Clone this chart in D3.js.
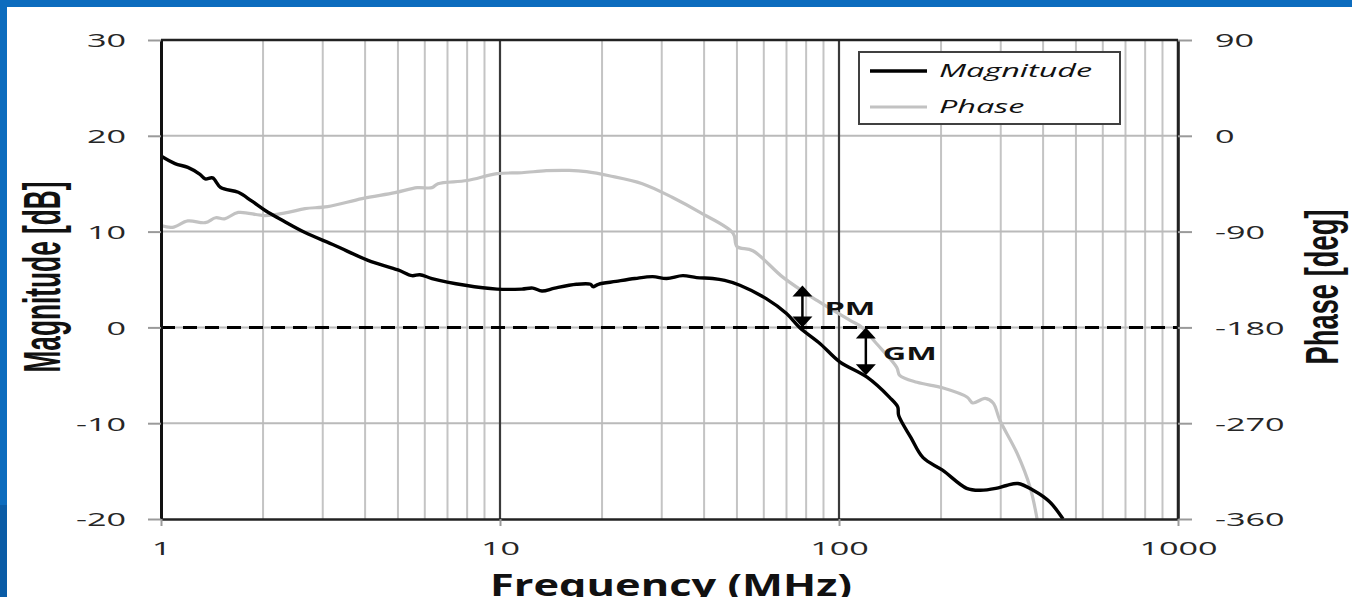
<!DOCTYPE html>
<html>
<head>
<meta charset="utf-8">
<script src="https://cdn.jsdelivr.net/npm/d3@7"></script>
<style>
  html, body { margin: 0; padding: 0; background: #fff; overflow: hidden; }
  svg { display: block; }
  .tick text { font-family: "Open Sans", sans-serif; font-size: 19px; fill: #262626; }
</style>
</head>
<body>
<div id="chart"></div>
<script>
// Magnitude curve (frequency in MHz, magnitude in dB)
var magFreq = [1.00, 1.10, 1.20, 1.30, 1.35, 1.42, 1.50, 1.69, 1.85, 2.03, 2.30, 2.66, 3.26, 4.08, 5.0, 5.5, 5.8, 6.3, 7.9, 9.8,
  11.6, 12.5, 13.3, 14.5, 16.8, 18.5, 18.8, 19.5, 22, 25, 28.2, 31, 34.6, 38, 42.4, 46, 51, 61, 70, 76.5,
  88, 100.5, 121, 141, 149, 150, 163, 177, 202, 238, 261, 290, 312, 337, 374, 418, 458];
var magDb = [17.9, 17.1, 16.7, 16.0, 15.5, 15.6, 14.6, 14.1, 13.2, 12.2, 11.1, 9.9, 8.55, 7.0, 6.0, 5.4, 5.5, 5.1, 4.4, 4.0,
  4.0, 4.1, 3.8, 4.1, 4.5, 4.5, 4.25, 4.5, 4.8, 5.1, 5.3, 5.1, 5.4, 5.2, 5.1, 4.9, 4.4, 3.0, 1.45, 0,
  -1.7, -3.6, -5.2, -7.3, -8.3, -9.2, -11.5, -13.6, -14.9, -16.8, -17.0, -16.8, -16.5, -16.3, -17.0, -18.2, -20];

// Phase curve (frequency in MHz, phase in degrees)
var phaseFreq = [1.00, 1.08, 1.20, 1.35, 1.45, 1.54, 1.69, 2.03, 2.37, 2.66, 3.1, 3.92, 4.9, 5.7, 6.3, 6.56, 8.0, 9.8,
  11.6, 13.7, 16, 18.0, 21, 26.3, 32.3, 38.9, 48.7, 50.0, 55.7, 68.4, 86.1, 107.8, 117, 128, 148, 151, 170, 203,
  239, 248, 270, 285, 298, 335, 366, 384];
var phaseDeg = [-84.4, -86, -80, -81.6, -77, -78, -72, -75, -72, -68.4, -66.6, -59, -53.4, -48.7, -48.7, -45, -42, -35.6,
  -34.7, -32.8, -32.5, -33.7, -37.5, -45, -58, -72, -91.5, -104, -108, -133, -154.7, -173.4, -180, -194, -217.5, -225, -231.6, -237,
  -245.6, -251, -246.6, -251, -267, -298, -330, -360];

var magTicks = [30, 20, 10, 0, -10, -20];
var phaseTicks = [90, 0, -90, -180, -270, -360];
var freqTicks = [1, 10, 100, 1000];

// margin markers
var pmFreq = 78, pmTopPhase = -140.6;
var gmFreq = 120, gmBottomDb = -5;

var svgWidth = 1352, svgHeight = 597;
var plot = { left: 161, right: 1178, top: 40, bottom: 519 };
var stretch = 1.8; // the original picture is stretched horizontally

var svg = d3.select("#chart").append("svg")
  .attr("width", svgWidth)
  .attr("height", svgHeight);

// blue slide frame
svg.append("rect").attr("x", 0).attr("y", 0).attr("width", svgWidth).attr("height", 7).attr("fill", "#0c6cbe");
svg.append("rect").attr("x", 0).attr("y", 0).attr("width", 7).attr("height", svgHeight).attr("fill", "#0c6cbe");
svg.append("rect").attr("x", 0).attr("y", 505).attr("width", 7).attr("height", 92).attr("fill", "#0a5ca6");

// scales
var x = d3.scaleLog().domain([1, 1000]).range([plot.left, plot.right]);
var yMag = d3.scaleLinear().domain([-20, 30]).range([plot.bottom, plot.top]);
var yPh = d3.scaleLinear().domain([-360, 90]).range([plot.bottom, plot.top]);

var grid = svg.append("g");

// minor vertical gridlines
var minor = [];
[1, 10, 100].forEach(function(d) {
  for (var k = 2; k <= 9; k++) minor.push(k * d);
});
grid.selectAll(".vminor").data(minor).enter().append("line")
  .attr("x1", d => x(d)).attr("x2", d => x(d))
  .attr("y1", plot.top).attr("y2", plot.bottom)
  .attr("stroke", "#c4c4c4").attr("stroke-width", 2);

// horizontal gridlines
grid.selectAll(".hgrid").data(magTicks.slice(1, -1)).enter().append("line")
  .attr("x1", plot.left).attr("x2", plot.right)
  .attr("y1", d => yMag(d)).attr("y2", d => yMag(d))
  .attr("stroke", "#bababa").attr("stroke-width", 2);

// decade gridlines
grid.selectAll(".vmajor").data([10, 100]).enter().append("line")
  .attr("x1", d => x(d)).attr("x2", d => x(d))
  .attr("y1", plot.top).attr("y2", plot.bottom)
  .attr("stroke", "#3a3a3a").attr("stroke-width", 2.2);

// 0 dB dashed line
svg.append("line")
  .attr("x1", plot.left).attr("x2", plot.right)
  .attr("y1", yMag(0)).attr("y2", yMag(0))
  .attr("stroke", "#000").attr("stroke-width", 3)
  .attr("stroke-dasharray", "14,8");

// curves
svg.append("clipPath").attr("id", "clip").append("rect")
  .attr("x", plot.left).attr("y", plot.top)
  .attr("width", plot.right - plot.left).attr("height", plot.bottom - plot.top);

var magData = magFreq.map((f, i) => [f, magDb[i]]);
var phaseData = phaseFreq.map((f, i) => [f, phaseDeg[i]]);

var phaseLine = d3.line().x(d => x(d[0])).y(d => yPh(d[1])).curve(d3.curveCatmullRom.alpha(0.5));
var magLine = d3.line().x(d => x(d[0])).y(d => yMag(d[1])).curve(d3.curveCatmullRom.alpha(0.5));

svg.append("path").datum(phaseData)
  .attr("clip-path", "url(#clip)")
  .attr("d", phaseLine)
  .attr("fill", "none").attr("stroke", "#c2c2c2").attr("stroke-width", 3.2)
  .attr("stroke-linejoin", "round");

svg.append("path").datum(magData)
  .attr("clip-path", "url(#clip)")
  .attr("d", magLine)
  .attr("fill", "none").attr("stroke", "#000").attr("stroke-width", 3.4)
  .attr("stroke-linejoin", "round");

// frame
svg.append("line").attr("x1", plot.left).attr("x2", plot.right).attr("y1", plot.top).attr("y2", plot.top)
  .attr("stroke", "#222").attr("stroke-width", 2.5);
svg.append("line").attr("x1", plot.right).attr("x2", plot.right).attr("y1", plot.top).attr("y2", plot.bottom)
  .attr("stroke", "#222").attr("stroke-width", 2.5);

// axes
var leftAxis = d3.axisLeft(yMag).tickValues(magTicks).tickSize(13).tickSizeOuter(0).tickFormat(d => String(d));
var rightAxis = d3.axisRight(yPh).tickValues(phaseTicks).tickSize(14).tickSizeOuter(0).tickFormat(d => String(d));
var bottomAxis = d3.axisBottom(x).tickValues(freqTicks).tickSize(7).tickSizeOuter(0).tickFormat(d => String(d));

var gLeft = svg.append("g").attr("transform", `translate(${plot.left},0)`).call(leftAxis);
var gRight = svg.append("g").attr("transform", `translate(${plot.right},0)`).call(rightAxis);
var gBottom = svg.append("g").attr("transform", `translate(0,${plot.bottom})`).call(bottomAxis);

[gLeft, gRight, gBottom].forEach(function(g) {
  g.selectAll(".tick line").attr("stroke", "#9a9a9a").attr("stroke-width", 2);
  g.attr("font-family", null).attr("font-size", null);
});
gLeft.select(".domain").attr("stroke", "#111").attr("stroke-width", 3);
gRight.select(".domain").attr("stroke", "#222").attr("stroke-width", 2.5);
gBottom.select(".domain").attr("stroke", "#222").attr("stroke-width", 2.5);

gLeft.selectAll("text").attr("x", -35 / stretch).attr("dy", "0.36em")
  .attr("transform", `scale(${stretch},1)`);
gRight.selectAll("text").attr("x", 37 / stretch).attr("dy", "0.36em")
  .attr("transform", `scale(${stretch},1)`);
gBottom.selectAll("text").attr("y", 23).attr("dy", "0.71em")
  .attr("transform", `scale(${stretch},1)`);

// axis titles
svg.append("text")
  .attr("transform", `translate(60,277) scale(${stretch},1) rotate(-90)`)
  .attr("text-anchor", "middle")
  .attr("font-family", "'Liberation Sans Narrow', 'Liberation Sans', sans-serif")
  .attr("font-weight", "bold").attr("font-size", 29)
  .attr("textLength", 191).attr("lengthAdjust", "spacingAndGlyphs")
  .attr("fill", "#111")
  .text("Magnitude [dB]");

svg.append("text")
  .attr("transform", `translate(1338,287) scale(${stretch},1) rotate(-90)`)
  .attr("text-anchor", "middle")
  .attr("font-family", "'Liberation Sans Narrow', 'Liberation Sans', sans-serif")
  .attr("font-weight", "bold").attr("font-size", 26)
  .attr("textLength", 155).attr("lengthAdjust", "spacingAndGlyphs")
  .attr("fill", "#111")
  .text("Phase [deg]");

svg.append("text")
  .attr("x", 671).attr("y", 596)
  .attr("text-anchor", "middle")
  .attr("font-family", "'Open Sans', sans-serif")
  .attr("font-weight", "bold").attr("font-size", 30)
  .attr("textLength", 362).attr("lengthAdjust", "spacingAndGlyphs")
  .attr("fill", "#111")
  .text("Frequency (MHz)");

// PM and GM arrows
function arrow(xp, yA, yB) {
  var g = svg.append("g");
  var top = Math.min(yA, yB), bot = Math.max(yA, yB);
  g.append("line").attr("x1", xp).attr("x2", xp).attr("y1", top + 6).attr("y2", bot - 6)
    .attr("stroke", "#000").attr("stroke-width", 2.5);
  g.append("path").attr("d", `M${xp},${top} L${xp + 10},${top + 11} L${xp - 10},${top + 11} Z`).attr("fill", "#000");
  g.append("path").attr("d", `M${xp},${bot} L${xp + 10},${bot - 11} L${xp - 10},${bot - 11} Z`).attr("fill", "#000");
}
arrow(x(pmFreq), yPh(pmTopPhase), yMag(0));
arrow(x(gmFreq), yMag(0), yMag(gmBottomDb));

function stretchedText(tx, ty, str, opts) {
  return svg.append("text")
    .attr("transform", `translate(${tx},${ty}) scale(${stretch},1)`)
    .attr("font-family", "'Open Sans', sans-serif")
    .attr("font-size", opts.size)
    .attr("font-weight", opts.weight || "normal")
    .attr("font-style", opts.style || "normal")
    .attr("fill", "#111")
    .text(str);
}
stretchedText(x(pmFreq) + 22, 315, "PM", { size: 18, weight: "bold" });
stretchedText(x(gmFreq) + 17, 360, "GM", { size: 18, weight: "bold" });

// legend
var legend = svg.append("g");
legend.append("rect").attr("x", 859).attr("y", 52).attr("width", 261).attr("height", 72)
  .attr("fill", "#fff").attr("stroke", "#404040").attr("stroke-width", 2);
legend.append("line").attr("x1", 870).attr("x2", 927).attr("y1", 71).attr("y2", 71)
  .attr("stroke", "#000").attr("stroke-width", 3.4);
legend.append("line").attr("x1", 870).attr("x2", 927).attr("y1", 107).attr("y2", 107)
  .attr("stroke", "#c2c2c2").attr("stroke-width", 3.2);
stretchedText(939, 77, "Magnitude", { size: 18, style: "italic" });
stretchedText(939, 113, "Phase", { size: 18, style: "italic" });
</script>
</body>
</html>
